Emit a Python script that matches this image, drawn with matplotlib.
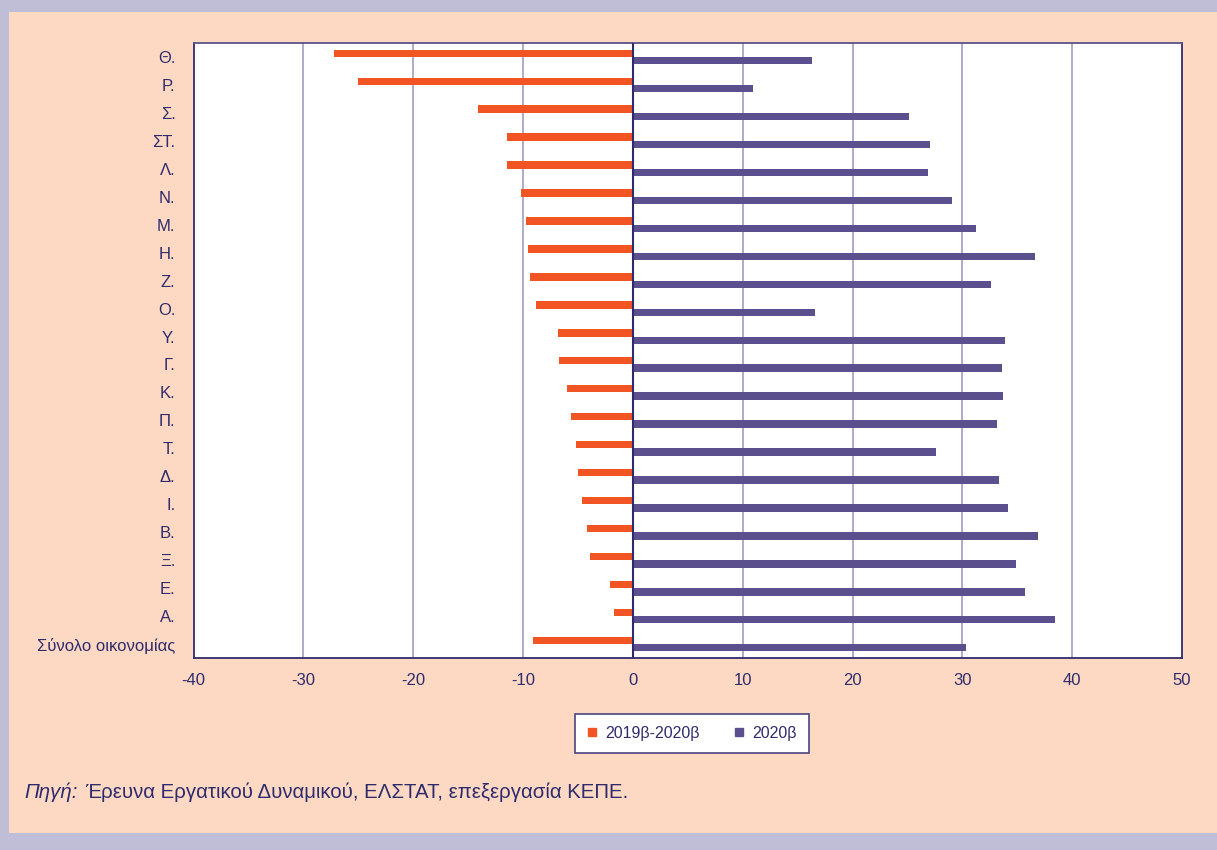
"""Μεταβολή απασχόλησης ανά κλάδο: 2019β-2020β και επίπεδο 2020β."""

import matplotlib

matplotlib.use("Agg")

import matplotlib.pyplot as plt
import numpy as np
from matplotlib.lines import Line2D
from matplotlib.patches import Rectangle

plt.rcParams["font.family"] = ["Liberation Sans", "DejaVu Sans"]

CATEGORIES = [
    "Θ.", "Ρ.", "Σ.", "ΣΤ.", "Λ.", "Ν.", "Μ.", "Η.", "Ζ.", "Ο.", "Υ.",
    "Γ.", "Κ.", "Π.", "Τ.", "Δ.", "Ι.", "Β.", "Ξ.", "Ε.", "Α.",
    "Σύνολο οικονομίας",
]
CHANGE_2019_2020 = [
    -27.2, -25.0, -14.1, -11.5, -11.5, -10.2, -9.7, -9.5, -9.4, -8.8, -6.8,
    -6.7, -6.0, -5.6, -5.2, -5.0, -4.6, -4.2, -3.9, -2.1, -1.7,
    -9.1,
]
LEVEL_2020 = [
    16.3, 10.9, 25.1, 27.1, 26.9, 29.1, 31.2, 36.6, 32.6, 16.6, 33.9,
    33.6, 33.7, 33.2, 27.6, 33.3, 34.2, 36.9, 34.9, 35.7, 38.4,
    30.3,
]
X_TICKS = [-40, -30, -20, -10, 0, 10, 20, 30, 40, 50]
SERIES_LABELS = ["2019β-2020β", "2020β"]

ORANGE = "#F15524"
PURPLE = "#5B4F8D"
NAVY = "#2E2B6D"
GRID = "#A9A4C7"
PEACH = "#FDD9C3"
LAVENDER = "#C0BDD6"

W, H = 1217, 850


def fx(px: float) -> float:
    return px / W


def fy(py: float) -> float:
    return 1 - py / H


def draw_background(fig: plt.Figure) -> None:
    """Λιλά πλαίσιο με ροδακινί εσωτερικό."""
    fig.patch.set_facecolor(LAVENDER)
    fig.patches.append(
        Rectangle(
            (fx(9), fy(833)), fx(W - 9), fy(12) - fy(833),
            transform=fig.transFigure, facecolor=PEACH, edgecolor="none", zorder=-5,
        )
    )


def main() -> None:
    fig = plt.figure(figsize=(W / 100, H / 100), dpi=100)
    draw_background(fig)

    ax = fig.add_axes([fx(193.5), fy(658), fx(1182) - fx(193.5), fy(43) - fy(658)])
    ax.set_zorder(2)
    ax.set_facecolor("white")

    y = np.arange(len(CATEGORIES))
    h = 0.265
    ax.barh(y - h / 2, CHANGE_2019_2020, height=h, color=ORANGE, zorder=3)
    ax.barh(y + h / 2, LEVEL_2020, height=h, color=PURPLE, zorder=3)

    ax.set_ylim(len(CATEGORIES) - 0.5, -0.5)
    ax.set_xlim(X_TICKS[0], X_TICKS[-1])
    ax.set_xticks(X_TICKS)
    ax.set_xticklabels([str(t) for t in X_TICKS])
    ax.set_yticks(y)
    ax.set_yticklabels(CATEGORIES)

    for t in X_TICKS[1:-1]:
        if t == 0:
            continue
        ax.axvline(t, color=GRID, linewidth=1.3, zorder=1)
    ax.axvline(0, color=NAVY, linewidth=1.5, zorder=4)

    for spine in ax.spines.values():
        spine.set_color(NAVY)
        spine.set_linewidth(1.3)
    ax.spines["top"].set_color("#5A5288")

    ax.tick_params(axis="both", length=0, labelsize=12, labelcolor=NAVY)
    ax.tick_params(axis="y", pad=13)
    ax.tick_params(axis="x", pad=11)

    handles = [
        Line2D([], [], marker="s", linestyle="none", markersize=6,
               markerfacecolor=c, markeredgecolor=c)
        for c in (ORANGE, PURPLE)
    ]
    leg = fig.legend(
        handles, SERIES_LABELS, loc="center", bbox_to_anchor=(fx(692), fy(733.5)),
        ncol=2, frameon=True, fancybox=False, framealpha=1, fontsize=11.5,
        handlelength=0.6, handletextpad=0.5, columnspacing=2.2,
        borderpad=0.75, labelcolor=NAVY,
    )
    leg.get_frame().set_edgecolor("#4A4380")
    leg.get_frame().set_linewidth(1.2)

    fig.text(fx(24), fy(792), "Πηγή:", style="italic", fontsize=14.7,
             color=NAVY, va="center", ha="left")
    fig.text(fx(85), fy(792), "Έρευνα Εργατικού Δυναμικού, ΕΛΣΤΑΤ, επεξεργασία ΚΕΠΕ.",
             fontsize=14.7, color=NAVY, va="center", ha="left")

    fig.savefig("out.png", dpi=100, facecolor=fig.get_facecolor())
    plt.close(fig)


if __name__ == "__main__":
    main()
